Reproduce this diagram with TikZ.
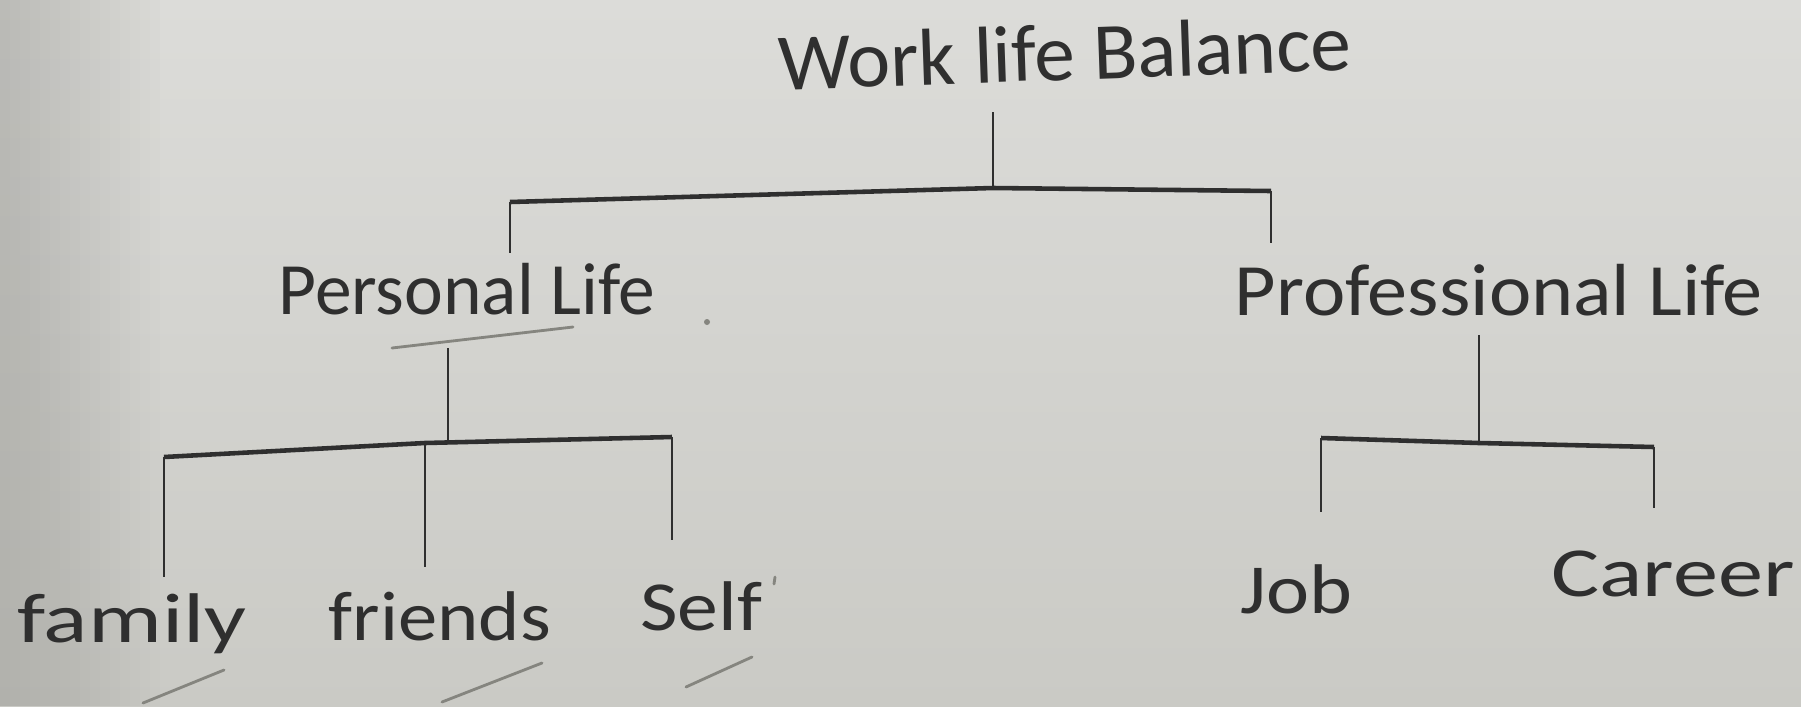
\documentclass[tikz,border=0pt]{standalone}
\usepackage{fontspec}
\usepackage{graphicx}
\setmainfont{Carlito}
\usetikzlibrary{positioning}
\definecolor{paper}{HTML}{DCDCD9}
\definecolor{paperlow}{HTML}{CACAC5}
\definecolor{paperdark}{HTML}{9A9A95}
\definecolor{ink}{HTML}{2F2F2F}
\definecolor{faint}{HTML}{85857F}

% stretch a handwritten word to the width it takes on the page
\newcommand{\penword}[2]{\resizebox{#1}{\height}{#2}}

\begin{document}
\begin{tikzpicture}[
    word/.style={anchor=base, inner sep=0pt, text=ink, font=\fontsize{20}{24}\selectfont},
    branch/.style={draw=ink, line width=0.75pt},
    bar/.style={draw=ink, line width=1.3pt, line join=round},
    stray/.style={draw=faint, line width=0.8pt, line cap=round}
]

% Paper
\useasboundingbox (0,0) rectangle (18.01,7.06);
\shade[top color=paper, bottom color=paperlow] (0,0) rectangle (18.01,7.06);
\foreach \i in {0,...,15}
    \fill[paperdark, opacity=0.03] (0,0) rectangle ({1.6-0.1*\i},7.06);

% Nodes
\node[word, font=\fontsize{23}{27}\selectfont, rotate=2] (wlb) at (10.66,6.26) {\penword{5.73cm}{Work life Balance}};
\node[word, font=\fontsize{21}{25}\selectfont] (pl) at (4.67,3.92) {\penword{3.77cm}{Personal Life}};
\node[word, font=\fontsize{21}{25}\selectfont] (prl) at (14.99,3.91) {\penword{5.28cm}{Professional Life}};
\node[word] (fam) at (1.32,0.64) {\penword{2.29cm}{family}};
\node[word] (fri) at (4.40,0.66) {\penword{2.22cm}{friends}};
\node[word] (slf) at (7.01,0.76) {\penword{1.22cm}{Self}};
\node[word] (job) at (12.96,0.93) {\penword{1.12cm}{Job}};
\node[word] (car) at (16.73,1.10) {\penword{2.43cm}{Career}};

% Junctions
\coordinate (topmid) at (9.93,5.18);
\coordinate (topL) at (5.10,5.04);
\coordinate (topR) at (12.71,5.15);
\coordinate (plJ) at (4.48,2.64);
\coordinate (famJ) at (1.64,2.49);
\coordinate (friJ) at (4.25,2.63);
\coordinate (slfJ) at (6.72,2.69);
\coordinate (prlJ) at (14.79,2.63);
\coordinate (jobJ) at (13.21,2.68);
\coordinate (carJ) at (16.54,2.59);

% Lines
\draw[branch, shorten <=0.32cm] (topmid |- wlb.base) -- (topmid);
\draw[bar] (topL) -- (topmid) -- (topR);
\draw[branch, shorten >=0.61cm] (topL) -- (topL |- pl.base);
\draw[branch, shorten >=0.72cm] (topR) -- (topR |- prl.base);

\draw[branch, shorten <=0.34cm] (plJ |- pl.base) -- (plJ);
\draw[bar] (famJ) -- (friJ) -- (slfJ);
\draw[branch, shorten >=0.65cm] (famJ) -- (famJ |- fam.base);
\draw[branch, shorten >=0.73cm] (friJ) -- (friJ |- fri.base);
\draw[branch, shorten >=0.90cm] (slfJ) -- (slfJ |- slf.base);

\draw[branch, shorten <=0.20cm] (prlJ |- prl.base) -- (prlJ);
\draw[bar] (jobJ) -- (prlJ) -- (carJ);
\draw[branch, shorten >=1.01cm] (jobJ) -- (jobJ |- job.base);
\draw[branch, shorten >=0.88cm] (carJ) -- (carJ |- car.base);

% Stray pen marks
\draw[stray] (3.92,3.58) -- (5.73,3.79);
\fill[faint] (7.07,3.84) circle (0.03);
\draw[stray] (1.43,0.03) -- (2.24,0.36);
\draw[stray] (4.42,0.04) -- (5.42,0.43);
\draw[stray] (6.86,0.19) -- (7.52,0.49);
\draw[stray] (7.75,1.29) -- (7.74,1.22);

\end{tikzpicture}
\end{document}
